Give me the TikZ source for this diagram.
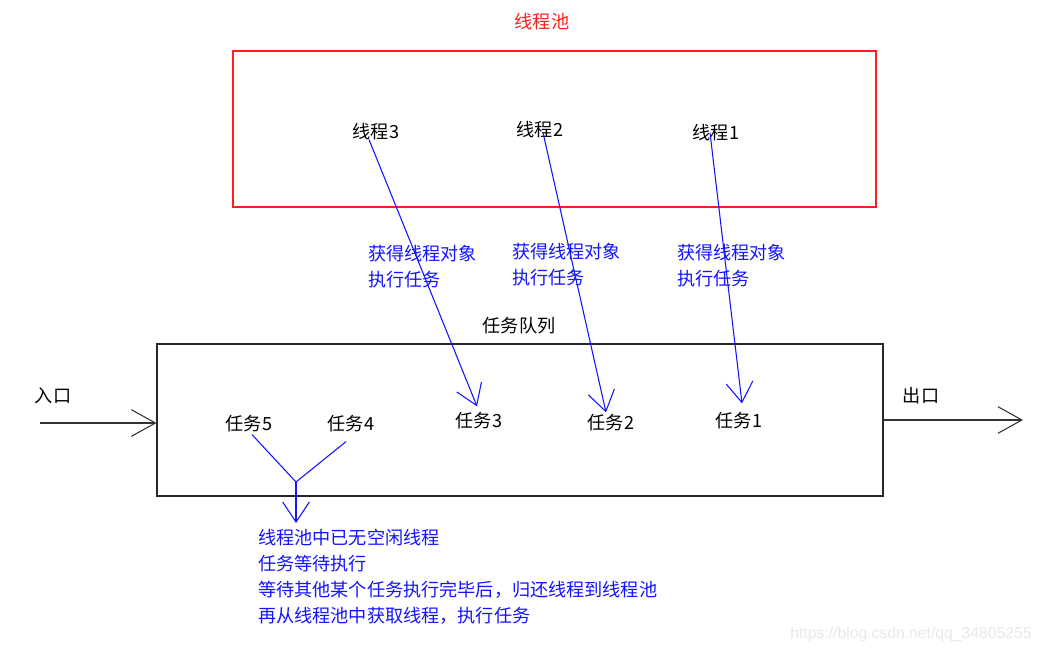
\documentclass[tikz,border=0pt]{standalone}
\usepackage{fontspec}
\setmainfont{Noto Sans CJK SC}
\newfontfamily\wmfont{Liberation Sans}
\usetikzlibrary{arrows.meta,calc}
\definecolor{lblue}{RGB}{20,20,255}
\definecolor{lred}{RGB}{255,30,30}
\tikzset{
  txt/.style={inner sep=0pt, font=\fontsize{13.6pt}{19.5pt}\selectfont},
  btxt/.style={txt, text=black},
  bluetxt/.style={txt, text=lblue, align=left, anchor=north west},
  bluearrow/.style={draw=lblue, line width=0.8pt, -{Straight Barb[length=15pt,width=20pt,line width=0.8pt]}},
  bluelink/.style={draw=lblue, line width=0.8pt},
  blackarrow/.style={draw=black!80, line width=0.8pt, -{Straight Barb[length=18pt,width=20pt,line width=0.8pt]}},
  frame/.style={line width=0.8pt}
}
\begin{document}
\begin{tikzpicture}[x=0.75pt,y=-0.75pt]
\useasboundingbox[fill=white] (0,0) rectangle (1043,652);
% thread pool
\node[txt, text=lred] (title) at (542,22) {线程池};
\node[draw=lred, frame, minimum width=643*0.75pt, minimum height=156*0.75pt, inner sep=0pt] (pool) at (554.5,129) {};
\node[btxt] (th3) at (376,132) {线程3};
\node[btxt] (th2) at (540,130) {线程2};
\node[btxt] (th1) at (716,133) {线程1};
% labels
\node[bluetxt] (l3) at (368,245) {获得线程对象\\执行任务};
\node[bluetxt] (l2) at (512,243) {获得线程对象\\执行任务};
\node[bluetxt] (l1) at (677,244) {获得线程对象\\执行任务};
% queue
\node[btxt] (qtitle) at (519,326) {任务队列};
\node[draw=black!85, frame, minimum width=726*0.75pt, minimum height=152*0.75pt, inner sep=0pt] (queue) at (520,420) {};
\node[btxt] (t5) at (249,424) {任务5};
\node[btxt] (t4) at (351,424) {任务4};
\node[btxt] (t3) at (479,421) {任务3};
\node[btxt] (t2) at (611,423) {任务2};
\node[btxt] (t1) at (739,421) {任务1};
% entry / exit
\node[btxt] (inlab) at (53,396) {入口};
\node[btxt] (outlab) at (921,396) {出口};
\coordinate (inL) at (40,423);
\coordinate (outR) at (1023,420);
\draw[blackarrow] (inL) -- (inL -| queue.west);
\draw[blackarrow] (queue.east |- outR) -- (outR);
% thread arrows
\draw[bluearrow] ($(th3.south)+(-7,-1)$) -- ($(t3.north)+(-2,-6)$);
\draw[bluearrow] ($(th2.south)+(3,-6)$) -- ($(t2.north)+(-5,-2)$);
\draw[bluearrow] ($(th1.south)+(-6,-9)$) -- ($(t1.north)+(3,-9)$);
% waiting tasks
\coordinate (junc) at (296,482);
\node[bluetxt] (note) at (258,529) {线程池中已无空闲线程\\任务等待执行\\等待其他某个任务执行完毕后，归还线程到线程池\\再从线程池中获取线程，执行任务};
\draw[bluelink] ($(t5.south)+(3,2)$) -- (junc);
\draw[bluelink] ($(t4.south)+(-5,9)$) -- (junc);
\draw[bluearrow] (junc) -- ($(junc |- note.north)+(0,-6)$);
% watermark
\node[inner sep=0pt, text=black!9, font=\wmfont\fontsize{11.8pt}{13pt}\selectfont] (wm) at (911,634) {https://blog.csdn.net/qq\_34805255};
\end{tikzpicture}
\end{document}
